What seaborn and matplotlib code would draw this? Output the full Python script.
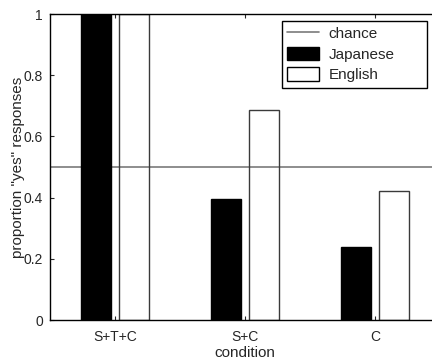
import pandas as pd
import matplotlib
matplotlib.use("Agg")
import matplotlib.pyplot as plt
import seaborn as sns
from matplotlib.lines import Line2D
from matplotlib.patches import Patch

conditions = ["S+T+C", "S+C", "C"]
japanese = [1.0, 0.395, 0.238]
english = [1.0, 0.686, 0.421]
chance = 0.5

df = pd.DataFrame({
    "condition": conditions * 2,
    "language": ["Japanese"] * 3 + ["English"] * 3,
    "proportion": japanese + english,
})

sns.set_style("ticks")
plt.rcParams["font.family"] = ["Liberation Sans", "DejaVu Sans"]

fig = plt.figure(figsize=(4.32, 3.6), dpi=100)
ax = fig.add_axes([50 / 432, 40 / 360, 390 / 432, 306 / 360])

sns.barplot(data=df, x="condition", y="proportion", hue="language",
            palette={"Japanese": "black", "English": "white"},
            width=0.57, gap=0.19, ax=ax, legend=False, saturation=1)

# bordas das barras; barras em inglês sem preenchimento
for patch in ax.patches:
    if patch.get_facecolor()[0] > 0.5:
        patch.set_facecolor("none")
        patch.set_edgecolor("#3a3a3a")
    else:
        patch.set_edgecolor("black")
    patch.set_linewidth(1.0)

ax.axhline(chance, color="#7a7a7a", lw=1.2, zorder=0.5)

ax.set_xlim(-0.5, 2.5)
ax.set_ylim(0, 1)
ax.set_yticks([0, 0.2, 0.4, 0.6, 0.8, 1])
ax.set_yticklabels(["0", "0.2", "0.4", "0.6", "0.8", "1"])
ax.tick_params(direction="in", length=3, labelsize=10, top=True, right=True)
ax.tick_params(axis="x", pad=7)
ax.tick_params(axis="y", pad=5)
ax.set_xlabel("condition", fontsize=11)
ax.set_ylabel('proportion "yes" responses', fontsize=11)
ax.xaxis.set_label_coords(0.5, -0.085)
ax.yaxis.set_label_coords(-0.064, 0.5)
for s in ax.spines.values():
    s.set_linewidth(1.0)
    s.set_color("black")

handles = [
    Line2D([0], [0], color="#7a7a7a", lw=1.2),
    Patch(facecolor="black", edgecolor="black"),
    Patch(facecolor="white", edgecolor="black"),
]
leg = fig.legend(handles, ["chance", "Japanese", "English"],
                 loc="upper left", mode="expand",
                 bbox_to_anchor=(282 / 432, 0, 145 / 432, 339 / 360),
                 fontsize=11, fancybox=False, edgecolor="black",
                 framealpha=1, handlelength=2.1, handleheight=1.0,
                 handletextpad=0.6, borderpad=0.35, labelspacing=0.35,
                 borderaxespad=0)
leg.get_frame().set_linewidth(1.0)

fig.savefig("out.png", dpi=100)
